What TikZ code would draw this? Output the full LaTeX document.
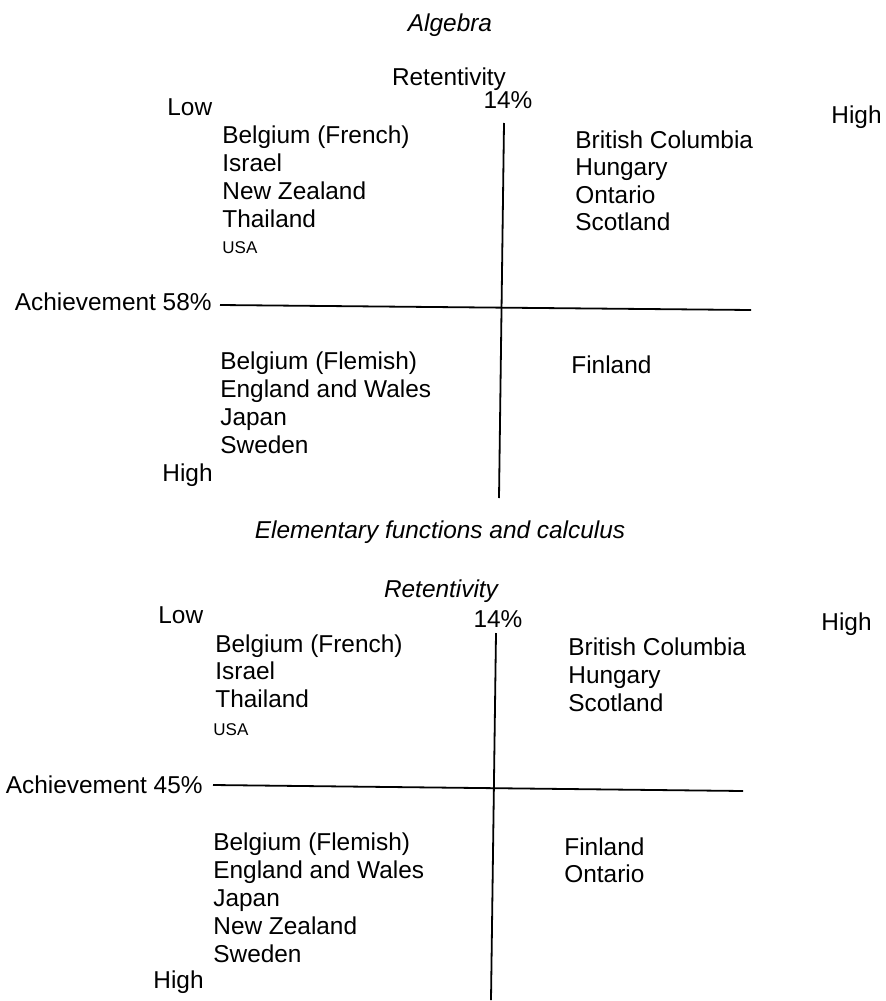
\documentclass[tikz,border=0pt]{standalone}
\usepackage{fontspec}
\setmainfont{Liberation Sans}
\usepackage{tikz}

\begin{document}
\begin{tikzpicture}[
        x=0.5pt, y=-0.5pt,
        country/.style={
            anchor=base west,
            inner sep=0pt,
            font=\fontsize{12.2}{14}\selectfont
        },
        smallcountry/.style={
            anchor=base west,
            inner sep=0pt,
            font=\fontsize{8.5}{10}\selectfont
        },
        axisname/.style={
            anchor=base,
            inner sep=0pt,
            font=\fontsize{12.2}{14}\selectfont
        },
        heading/.style={
            anchor=base,
            inner sep=0pt,
            font=\fontsize{12.2}{14}\selectfont\itshape
        },
        cutoff/.style={
            anchor=base east,
            inner sep=0pt,
            font=\fontsize{12.2}{14}\selectfont
        },
        axis/.style={
            line width=0.9pt
        }
    ]

    \useasboundingbox (0,0) rectangle (886,1001);

    \def\sep{28}

    % Algebra
    \node[heading]  (alg-title) at (450, 32) {Algebra};
    \node[axisname] (alg-ret)   at (449, 85) {Retentivity};
    \node[axisname] (alg-pct)   at (508,108) {14\%};
    \node[country]  (alg-low)   at (167,115) {Low};
    \node[country]  (alg-high)  at (831,123) {High};
    \node[country]  (alg-high2) at (162,481) {High};
    \node[cutoff]   (alg-ach)   at (212,310) {Achievement 58\%};

    \foreach \pais [count=\k] in {Belgium (French),Israel,New Zealand,Thailand}{
        \node[country] (alg-a\k) at (222,{143+\sep*(\k-1)}) {\pais};
    }
    \node[smallcountry] (alg-usa) at (222,253) {USA};

    \foreach \pais [count=\k] in {British Columbia,Hungary,Ontario,Scotland}{
        \node[country] (alg-b\k) at (575,{148+27.5*(\k-1)}) {\pais};
    }

    \foreach \pais [count=\k] in {Belgium (Flemish),England and Wales,Japan,Sweden}{
        \node[country] (alg-c\k) at (220,{369+\sep*(\k-1)}) {\pais};
    }
    \node[country] (alg-d1) at (571,373) {Finland};

    \coordinate (alg-w) at (220,305);
    \coordinate (alg-e) at (751,310);
    \coordinate (alg-n) at (504,123);
    \coordinate (alg-s) at (499,498);
    \draw[axis] (alg-w) -- (alg-e);
    \draw[axis] (alg-n) -- (alg-s);

    % Elementary functions and calculus
    \node[heading]  (cal-title) at (440,538) {Elementary functions and calculus};
    \node[heading]  (cal-ret)   at (441,597) {Retentivity};
    \node[axisname] (cal-pct)   at (498,627) {14\%};
    \node[country]  (cal-low)   at (158,623) {Low};
    \node[country]  (cal-high)  at (821,630) {High};
    \node[country]  (cal-high2) at (153,988) {High};
    \node[cutoff]   (cal-ach)   at (203,793) {Achievement 45\%};

    \foreach \pais [count=\k] in {Belgium (French),Israel,Thailand}{
        \node[country] (cal-a\k) at (215,{652+27.5*(\k-1)}) {\pais};
    }
    \node[smallcountry] (cal-usa) at (213,735) {USA};

    \foreach \pais [count=\k] in {British Columbia,Hungary,Scotland}{
        \node[country] (cal-b\k) at (568,{655+\sep*(\k-1)}) {\pais};
    }

    \foreach \pais [count=\k] in {Belgium (Flemish),England and Wales,Japan,New Zealand,Sweden}{
        \node[country] (cal-c\k) at (213,{850+\sep*(\k-1)}) {\pais};
    }
    \foreach \pais [count=\k] in {Finland,Ontario}{
        \node[country] (cal-d\k) at (564,{855+27*(\k-1)}) {\pais};
    }

    \coordinate (cal-w) at (213,785);
    \coordinate (cal-e) at (743,791);
    \coordinate (cal-n) at (496,633);
    \coordinate (cal-s) at (491,1000);
    \draw[axis] (cal-w) -- (cal-e);
    \draw[axis] (cal-n) -- (cal-s);

\end{tikzpicture}
\end{document}
